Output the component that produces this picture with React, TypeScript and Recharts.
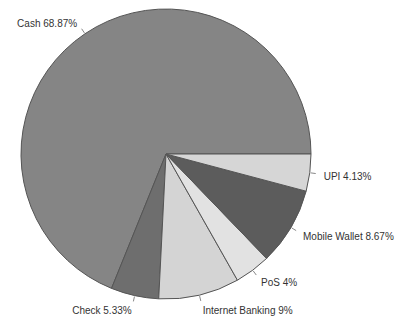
import React from "react";
import { PieChart, Pie, Cell } from "recharts";

const categories = ["Cash", "Check", "Internet Banking", "PoS", "Mobile Wallet", "UPI"];
const shares = [68.87, 5.33, 9, 4, 8.67, 4.13];
const labels = ["Cash 68.87%", "Check 5.33%", "Internet Banking 9%", "PoS 4%", "Mobile Wallet 8.67%", "UPI 4.13%"];
const colors = ["#858585", "#6e6e6e", "#d4d4d4", "#e2e2e2", "#5c5c5c", "#d6d6d6"];

const data = categories.map((name, i) => ({ name, value: shares[i], label: labels[i] }));

const RAD = Math.PI / 180;

const renderLabel = (props: any) => {
  const { cx, cy, midAngle, outerRadius, index } = props;
  const c = Math.cos(-midAngle * RAD);
  const s = Math.sin(-midAngle * RAD);
  const x1 = cx + (outerRadius + 1) * c;
  const y1 = cy + (outerRadius + 1) * s;
  const x2 = cx + (outerRadius + 6) * c;
  const y2 = cy + (outerRadius + 6) * s;
  const tx = cx + (outerRadius + 14) * c;
  const ty = cy + (outerRadius + 14) * s + 1.5;
  return (
    <g>
      <line x1={x1} y1={y1} x2={x2} y2={y2} stroke="#888" strokeWidth={1} />
      <text
        x={tx}
        y={ty}
        textAnchor={c >= 0 ? "start" : "end"}
        dominantBaseline="central"
        fontSize={10}
        fontFamily="Liberation Sans, Arial, sans-serif"
        fill="#333"
      >
        {labels[index]}
      </text>
    </g>
  );
};

export default function App() {
  return (
    <div style={{ width: 395, height: 314 }}>
      <PieChart width={395} height={314} margin={{ top: 0, right: 0, bottom: 0, left: 0 }} style={{ overflow: "visible" }}>
        <Pie
          data={data}
          dataKey="value"
          nameKey="name"
          cx={158}
          cy={146}
          outerRadius={145}
          startAngle={0}
          endAngle={360}
          stroke="#555"
          strokeWidth={1}
          label={renderLabel}
          labelLine={false}
          isAnimationActive={false}
        >
          {data.map((d, i) => (
            <Cell key={d.name} fill={colors[i]} />
          ))}
        </Pie>
      </PieChart>
    </div>
  );
}
